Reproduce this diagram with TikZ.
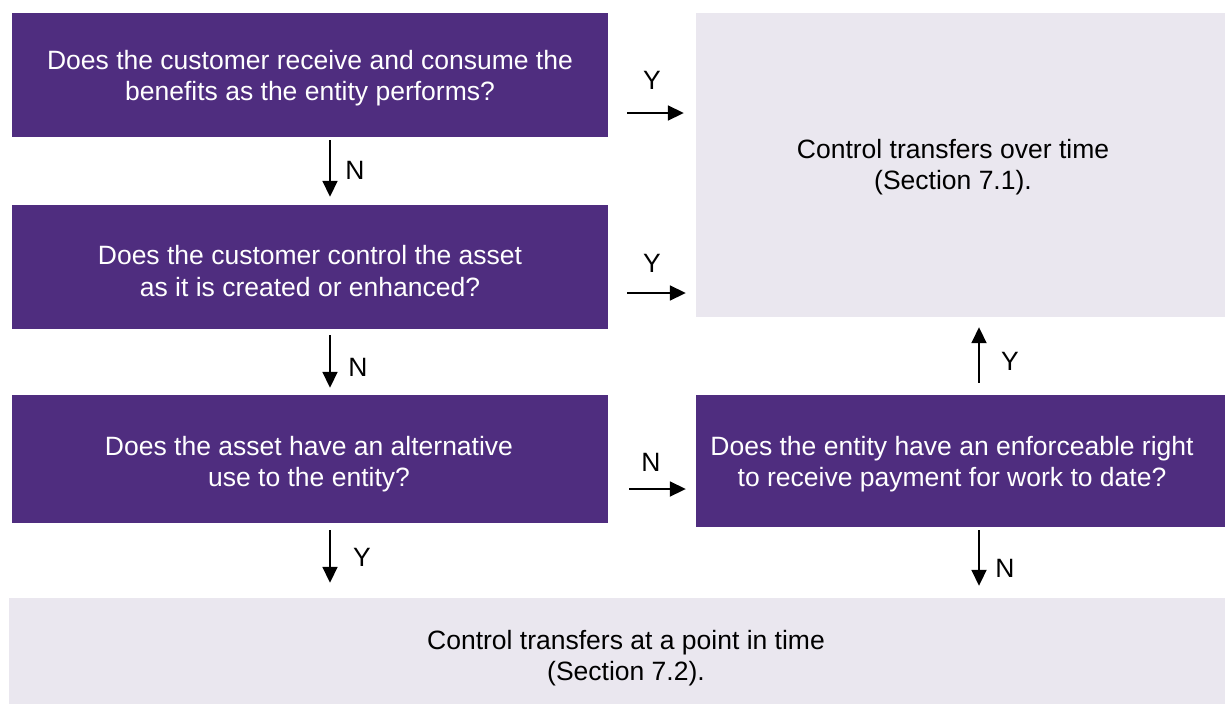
\documentclass[tikz,border=0pt]{standalone}
\usepackage{fontspec}
\setmainfont{Liberation Sans}
\usetikzlibrary{arrows.meta}
\definecolor{gtpurple}{HTML}{4F2D7F}
\definecolor{gtgray}{HTML}{EAE7EF}
\begin{document}
\begin{tikzpicture}[x=1pt,y=-1pt,
  pbox/.style={fill=gtpurple, draw=none, inner sep=0pt, minimum width=596pt},
  gbox/.style={fill=gtgray, draw=none, inner sep=0pt},
  btext/.style={align=center, inner sep=0pt, font=\fontsize{26.5}{31.5}\selectfont},
  wtext/.style={btext, text=white},
  ktext/.style={btext, text=black},
  arr/.style={line width=1.8pt, draw=black, -{Triangle[length=16pt,width=15pt]}},
  lbl/.style={inner sep=0pt, font=\fontsize{26.5}{31.5}\selectfont}]
\useasboundingbox (0,0) rectangle (1225,704);
% boxes
\node[pbox, minimum height=124pt] (b1) at (310,75) {};
\node[pbox, minimum height=124pt] (b2) at (310,267) {};
\node[pbox, minimum height=128pt] (b3) at (310,459) {};
\node[gbox, minimum width=529pt, minimum height=304pt] (g1) at (960.5,165) {};
\node[pbox, minimum width=529pt, minimum height=132pt] (b4) at (960.5,461) {};
\node[gbox, minimum width=1216pt, minimum height=106pt] (g2) at (617,651) {};
% texts
\node[wtext] (t1) at (310,78) {Does the customer receive and consume the\\benefits as the entity performs?};
\node[wtext] (t2) at (310,271) {Does the customer control the asset\\as it is created or enhanced?};
\node[wtext] (t3) at (309,464) {Does the asset have an alternative\\use to the entity?};
\node[wtext] (t4) at (952,464) {Does the entity have an enforceable right\\to receive payment for work to date?};
\node[ktext] (t5) at (953,167) {Control transfers over time\\(Section 7.1).};
\node[ktext] (t6) at (626,658) {Control transfers at a point in time\\(Section 7.2).};
% horizontal connectors
\draw[arr] ([xshift=19pt,yshift=-38pt]b1.east) -- ([xshift=-12pt,yshift=52pt]g1.west);
\draw[arr] ([xshift=19pt,yshift=-26pt]b2.east) -- ([xshift=-10pt,yshift=-128pt]g1.west);
\draw[arr] ([xshift=21pt,yshift=-30pt]b3.east) -- ([xshift=-10pt,yshift=-28pt]b4.west);
% vertical connectors
\draw[arr] ([xshift=20pt,yshift=-3pt]b1.south) -- ([xshift=20pt,yshift=8pt]b2.north);
\draw[arr] ([xshift=20pt,yshift=-6pt]b2.south) -- ([xshift=20pt,yshift=7pt]b3.north);
\draw[arr] ([xshift=20pt,yshift=-7pt]b3.south) -- ([xshift=-287pt,yshift=15pt]g2.north);
\draw[arr] ([xshift=18.5pt,yshift=-3pt]b4.south) -- ([xshift=362pt,yshift=12pt]g2.north);
\draw[arr] ([xshift=18.5pt,yshift=12pt]b4.north) -- ([xshift=18.5pt,yshift=-10pt]g1.south);
% labels
\node[lbl] (l1) at (652,80) {Y};
\node[lbl] (l2) at (652,263) {Y};
\node[lbl] (l3) at (651,462) {N};
\node[lbl] (l4) at (355,170) {N};
\node[lbl] (l5) at (358,367) {N};
\node[lbl] (l6) at (362,557) {Y};
\node[lbl] (l7) at (1005,568) {N};
\node[lbl] (l8) at (1010,361) {Y};
\end{tikzpicture}
\end{document}
